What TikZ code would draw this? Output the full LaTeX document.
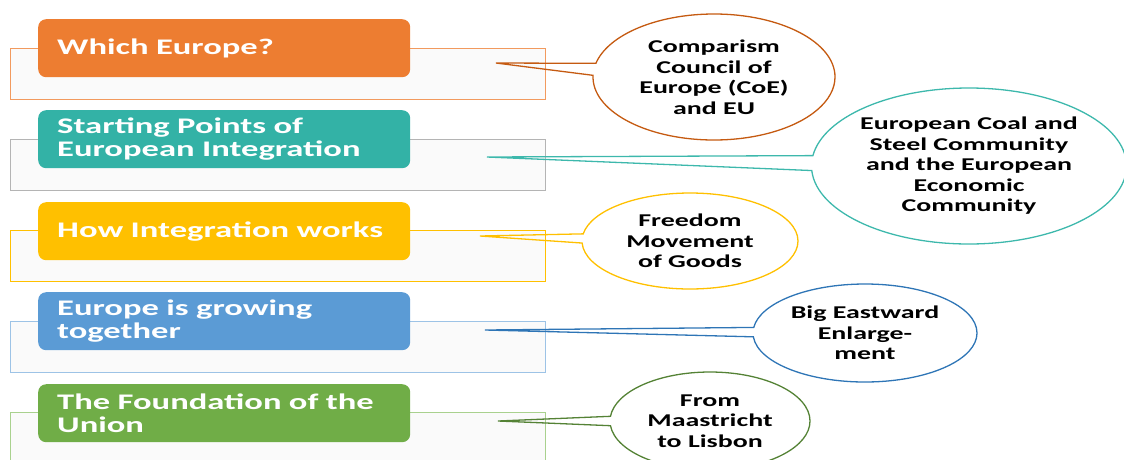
\documentclass[tikz,border=0pt]{standalone}
\usepackage{fontspec}
\setmainfont{Carlito}[FakeStretch=1.55]
\usetikzlibrary{shapes.callouts}
\definecolor{cOr}{HTML}{ED7D31}
\definecolor{cOrL}{HTML}{F29A5E}
\definecolor{cOrD}{HTML}{C55A11}
\definecolor{cTe}{HTML}{33B2A6}
\definecolor{cTeD}{HTML}{3DB8AC}
\definecolor{cGr}{HTML}{B4B4B4}
\definecolor{cYe}{HTML}{FFC000}
\definecolor{cBl}{HTML}{5B9BD5}
\definecolor{cBlL}{HTML}{9DC3E6}
\definecolor{cBlD}{HTML}{2E75B6}
\definecolor{cGn}{HTML}{70AD47}
\definecolor{cGnL}{HTML}{A9D18E}
\definecolor{cGnD}{HTML}{548235}
\begin{document}
\begin{tikzpicture}[x=1pt,y=-1pt,
  frame/.style={draw, line width=1pt, fill=black!2, anchor=north west,
    minimum width=535pt, minimum height=51pt, inner sep=0pt},
  head/.style={rounded corners=8pt, anchor=north west, text=white,
    font=\fontsize{22.3}{23}\selectfont\bfseries, align=left,
    text width=334pt, inner xsep=19pt, inner ysep=0pt, minimum height=58pt},
  bub/.style={ellipse callout, line width=1.3pt, align=center,
    font=\fontsize{18}{20.5}\selectfont\bfseries, inner sep=0pt,
    callout pointer arc=11}
]
\useasboundingbox (0,0) rectangle (1124,459);
\clip (0,0) rectangle (1124,459);

% outline frames
\node[frame, draw=cOrL] (f1) at (10,48) {};
\node[frame, draw=cGr]  (f2) at (10,139) {};
\node[frame, draw=cYe]  (f3) at (10,230) {};
\node[frame, draw=cBlL] (f4) at (10,321) {};
\node[frame, draw=cGnL] (f5) at (10,412) {};

% heading boxes
\node[head, fill=cOr] (h1) at (38,19)  {Which Europe?};
\node[head, fill=cTe] (h2) at (38,110) {Starting Points of\\European Integration};
\node[head, fill=cYe] (h3) at (38,202) {How Integration works};
\node[head, fill=cBl] (h4) at (38,292) {Europe is growing\\together};
\node[head, fill=cGn] (h5) at (38,384) {The Foundation of the\\Union};

% pointer tips
\coordinate (p1) at (496,63);
\coordinate (p2) at (487,157);
\coordinate (p3) at (480,236);
\coordinate (p4) at (485,330);
\coordinate (p5) at (498,421);

% callouts
\node[bub, draw=cOrD, minimum width=242pt, minimum height=126pt,
  callout absolute pointer={(p1)}] (c1) at (714,77)
  {Comparism\\Council of\\Europe (CoE)\\and EU};
\node[bub, draw=cTeD, minimum width=315pt, minimum height=156pt,
  callout absolute pointer={(p2)}] (c2) at (969,166)
  {European Coal and\\Steel Community\\and the European\\Economic\\Community};
\node[bub, draw=cYe, minimum width=216pt, minimum height=96pt,
  callout absolute pointer={(p3)}] (c3) at (690,241)
  {Freedom\\Movement\\of Goods};
\node[bub, draw=cBlD, minimum width=224pt, minimum height=98pt,
  callout absolute pointer={(p4)}] (c4) at (865,333)
  {Big Eastward\\Enlarge-\\ment};
\node[bub, draw=cGnD, minimum width=200pt, minimum height=98pt,
  callout absolute pointer={(p5)}] (c5) at (710,421)
  {From\\Maastricht\\to Lisbon};
\end{tikzpicture}
\end{document}
